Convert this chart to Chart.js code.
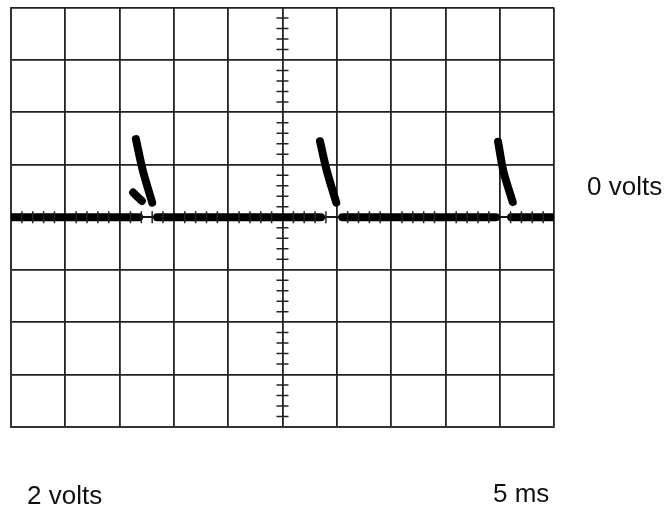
<!DOCTYPE html>
<html>
<head>
<meta charset="utf-8">
<script src="https://cdn.jsdelivr.net/npm/chart.js@4.4.0/dist/chart.umd.min.js"></script>
<style>
  body { margin: 0; background: #fff; }
  #wrap { position: relative; width: 667px; height: 510px; }
  .lbl { position: absolute; font: 26px "Liberation Sans", Arial, sans-serif; line-height: 26px; color: #111; white-space: nowrap; }
</style>
</head>
<body>
<div id="wrap">
  <canvas id="scope"></canvas>
  <div class="lbl" style="left:587px; top:173px;">0 volts</div>
  <div class="lbl" style="left:27px; top:482px;">2 volts</div>
  <div class="lbl" style="left:493px; top:480px;">5 ms</div>
</div>
<script>
// scope screen: 10 divisions across, 8 up (-4..4)
const xDivisions = [0, 10];
const yDivisions = [-4, 4];

// thick flat trace at 0 volts, with thin bits where it breaks
const thickRuns = [[0, 2.36], [2.69, 5.71], [6.10, 8.93], [9.21, 10]];
const thinGaps = [[2.36, 2.69], [5.71, 6.10], [8.93, 9.21]];

// the three spikes (x in divisions, y in divisions)
const spikeX = [[2.30, 2.43, 2.60], [5.69, 5.82, 5.99], [8.97, 9.07, 9.24]];
const spikeY = [[1.49, 0.88, 0.28], [1.45, 0.87, 0.28], [1.44, 0.87, 0.29]];

// small blip next to the first spike
const blipX = [2.25, 2.41];
const blipY = [0.47, 0.31];

const ink = '#000';

const lineSet = (pts, width, ord) => ({
  data: pts,
  showLine: true,
  borderColor: ink,
  borderWidth: width,
  borderCapStyle: 'round',
  borderJoinStyle: 'round',
  pointRadius: 0,
  tension: 0.3,
  order: ord,
});

const datasets = [];

thinGaps.forEach((r) => {
  datasets.push(lineSet([{ x: r[0], y: 0 }, { x: r[1], y: 0 }], 1, 3));
});
thickRuns.forEach((r) => {
  datasets.push(lineSet([{ x: r[0], y: 0 }, { x: r[1], y: 0 }], 8, 2));
});
spikeX.forEach((xs, i) => {
  datasets.push(lineSet(xs.map((x, j) => ({ x: x, y: spikeY[i][j] })), 8, 2));
});
datasets.push(lineSet(blipX.map((x, j) => ({ x: x, y: blipY[j] })), 8, 2));

// small tick marks along the centre axes (5 per division)
const hTicks = [];
for (let i = 1; i < 50; i++) if (i % 5) hTicks.push({ x: i / 5, y: 0 });
const vTicks = [];
for (let i = -19; i < 20; i++) if (i % 5) vTicks.push({ x: 5, y: i / 5 });

const tickSet = (pts, rot) => ({
  data: pts,
  pointStyle: 'line',
  rotation: rot,
  pointRadius: 6,
  pointHoverRadius: 6,
  pointBorderWidth: 1.5,
  pointBorderColor: '#222',
  order: 1,
});
datasets.push(tickSet(hTicks, 90));
datasets.push(tickSet(vTicks, 0));

const gridOpts = {
  color: '#222',
  lineWidth: 1.8,
  drawTicks: false,
};

new Chart(document.getElementById('scope'), {
  type: 'scatter',
  data: { datasets: datasets },
  options: {
    responsive: true,
    maintainAspectRatio: false,
    animation: false,
    events: [],
    layout: { padding: { left: 11, top: 6, right: 113, bottom: 83 } },
    plugins: { legend: { display: false }, tooltip: { enabled: false } },
    scales: {
      x: {
        type: 'linear',
        min: xDivisions[0],
        max: xDivisions[1],
        ticks: { display: false, stepSize: 1 },
        grid: gridOpts,
        border: { color: '#333', width: 2 },
      },
      y: {
        type: 'linear',
        min: yDivisions[0],
        max: yDivisions[1],
        ticks: { display: false, stepSize: 1 },
        grid: gridOpts,
        border: { color: '#333', width: 2 },
      },
    },
  },
});
</script>
</body>
</html>
